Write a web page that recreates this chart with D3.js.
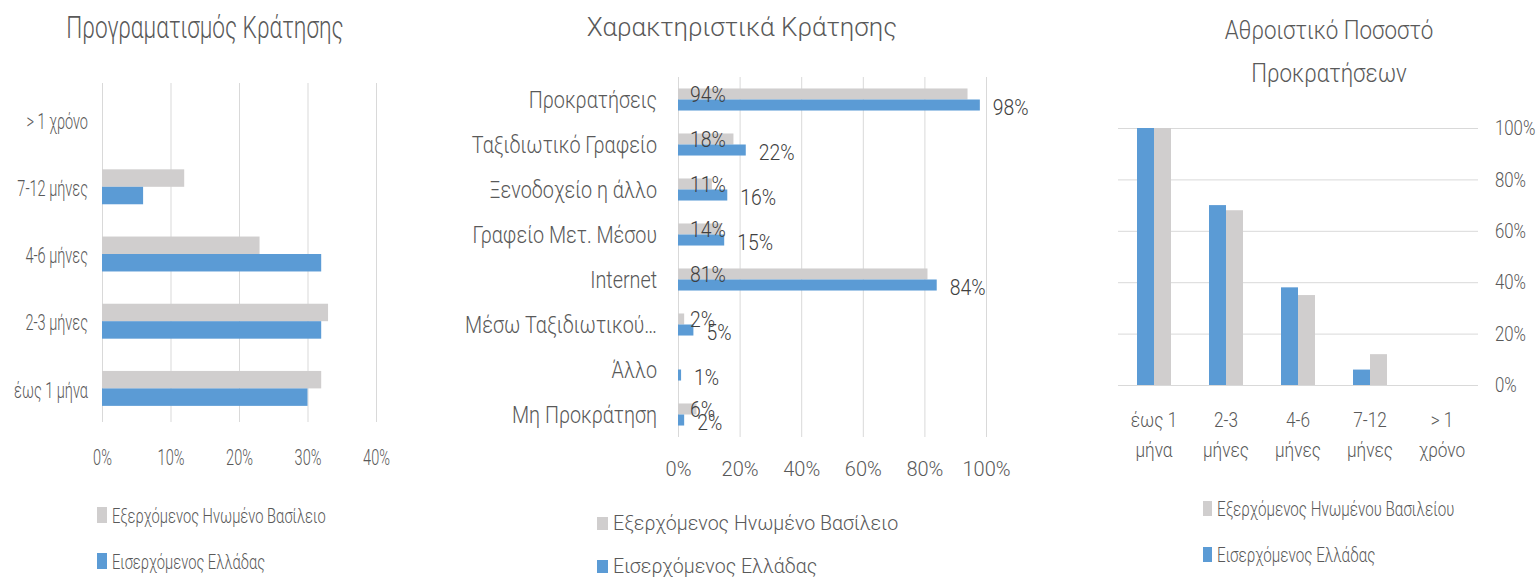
<!DOCTYPE html>
<html lang="el">
<head>
<meta charset="utf-8">
<title>Κράτηση</title>
<script src="https://cdn.jsdelivr.net/npm/d3@7"></script>
<style>
  body { margin: 0; background: #fff; }
  svg text { font-family: Roboto, "DejaVu Sans Condensed", sans-serif; font-weight: 300; }
</style>
</head>
<body>
<svg id="chart" width="1540" height="578"></svg>
<script>
// data
const durations = ["έως 1 μήνα", "2-3 μήνες", "4-6 μήνες", "7-12 μήνες", "> 1 χρόνο"];
const planUK = [32, 33, 23, 12, 0];
const planGR = [30, 32, 32, 6, 0];
const planTicks = [0, 10, 20, 30, 40];

const features = ["Προκρατήσεις", "Ταξιδιωτικό Γραφείο", "Ξενοδοχείο η άλλο", "Γραφείο Μετ. Μέσου",
  "Internet", "Μέσω Ταξιδιωτικού…", "Άλλο", "Μη Προκράτηση"];
const featureUK = [94, 18, 11, 14, 81, 2, 0, 6];
const featureGR = [98, 22, 16, 15, 84, 5, 1, 2];
const featureTicks = [0, 20, 40, 60, 80, 100];

const cumUK = [100, 68, 35, 12, 0];
const cumGR = [100, 70, 38, 6, 0];
const cumTicks = [0, 20, 40, 60, 80, 100];

const legendA = ["Εξερχόμενος Ηνωμένο Βασίλειο", "Εισερχόμενος Ελλάδας"];
const legendB = ["Εξερχόμενος Ηνωμένου Βασιλείου", "Εισερχόμενος Ελλάδας"];

const colors = ["#d0cece", "#5b9bd5"]; // UK, GR
const textColor = "#595959";
const gridColor = "#d9d9d9";

const svg = d3.select("#chart");

// the source pictures were stretched differently, so text is squeezed per panel
function squish(sel, sx) {
  sel.each(function () {
    const t = d3.select(this);
    t.attr("x", (+t.attr("x") || 0) / sx).attr("transform", `scale(${sx},1)`);
  });
}

function title(g, lines, cx, y0, lh, size, sx) {
  lines.forEach((s, i) => {
    g.append("text")
      .attr("x", cx).attr("y", y0 + i * lh)
      .attr("text-anchor", "middle")
      .attr("font-size", size)
      .attr("fill", textColor)
      .text(s)
      .call(squish, sx);
  });
}

function legend(g, names, x, ys, sq, size, sx) {
  names.forEach((n, i) => {
    g.append("rect")
      .attr("x", x).attr("y", ys[i] - sq[1])
      .attr("width", sq[0]).attr("height", sq[1])
      .attr("fill", colors[i]);
    g.append("text")
      .attr("x", x + sq[0] + 5).attr("y", ys[i])
      .attr("font-size", size)
      .attr("fill", textColor)
      .text(n)
      .call(squish, sx);
  });
}

function flat(cats, a, b) {
  return cats.flatMap((c, i) => [{ cat: c, j: 0, v: a[i] }, { cat: c, j: 1, v: b[i] }]);
}

// ---- panel 1: Προγραματισμός Κράτησης
{
  const fit = { title: 0.73, cat: 0.66, tick: 0.66, legend: 0.7 };
  const g = svg.append("g");
  const x = d3.scaleLinear().domain([0, 40]).range([102, 376]);
  const y = d3.scaleBand().domain(durations.slice().reverse()).range([86, 422])
    .paddingInner(0.48).paddingOuter(0.24);
  const s = d3.scaleBand().domain([0, 1]).range([0, y.bandwidth()]);

  g.append("g").attr("transform", "translate(0,422)")
    .call(d3.axisBottom(x).tickValues(planTicks).tickFormat(d => d + "%").tickSize(-339).tickPadding(27))
    .call(a => a.select(".domain").remove())
    .call(a => a.selectAll("line").attr("stroke", gridColor))
    .call(a => a.selectAll("text").attr("font-size", 22).attr("fill", textColor).call(squish, fit.tick));

  g.append("g").attr("transform", "translate(102,0)")
    .call(d3.axisLeft(y).tickSize(0).tickPadding(14))
    .call(a => a.select(".domain").remove())
    .call(a => a.selectAll("text").attr("font-size", 22).attr("fill", textColor)
      .attr("dy", "0.42em").call(squish, fit.cat));

  g.selectAll("rect.bar").data(flat(durations, planUK, planGR)).join("rect")
    .attr("class", "bar")
    .attr("x", x(0))
    .attr("y", d => y(d.cat) + s(d.j))
    .attr("width", d => x(d.v) - x(0))
    .attr("height", s.bandwidth())
    .attr("fill", d => colors[d.j]);

  title(g, ["Προγραματισμός Κράτησης"], 205, 38, 0, 31, fit.title);
  legend(g, legendA, 97, [523, 569], [10, 16], 21, fit.legend);
}

// ---- panel 2: Χαρακτηριστικά Κράτησης
{
  const fit = { title: 1.04, cat: 0.86, tick: 1.0, value: 0.88, legend: 0.98 };
  const g = svg.append("g");
  const x = d3.scaleLinear().domain([0, 100]).range([678, 986]);
  const y = d3.scaleBand().domain(features).range([77, 437])
    .paddingInner(0.51).paddingOuter(0.255);
  const s = d3.scaleBand().domain([0, 1]).range([0, y.bandwidth()]);

  g.append("g").attr("transform", "translate(0,437)")
    .call(d3.axisBottom(x).tickValues(featureTicks).tickFormat(d => d + "%").tickSize(-360).tickPadding(25))
    .call(a => a.select(".domain").remove())
    .call(a => a.selectAll("line").attr("stroke", gridColor))
    .call(a => a.selectAll("text").attr("font-size", 20).attr("fill", textColor).call(squish, fit.tick));

  g.append("g").attr("transform", "translate(678,0)")
    .call(d3.axisLeft(y).tickSize(0).tickPadding(21))
    .call(a => a.select(".domain").remove())
    .call(a => a.selectAll("text").attr("font-size", 23).attr("fill", textColor)
      .attr("dy", "0.35em").call(squish, fit.cat));

  const rows = flat(features, featureUK, featureGR);
  g.selectAll("rect.bar").data(rows).join("rect")
    .attr("class", "bar")
    .attr("x", x(0))
    .attr("y", d => y(d.cat) + s(d.j))
    .attr("width", d => x(d.v) - x(0))
    .attr("height", s.bandwidth())
    .attr("fill", d => colors[d.j]);

  // UK labels sit at the base, GR labels just past the bar end
  g.selectAll("text.val").data(rows.filter(d => d.v > 0)).join("text")
    .attr("class", "val")
    .attr("x", d => d.j === 0 ? x(0) + 12 : x(d.v) + 13)
    .attr("y", d => y(d.cat) + s(d.j) + s.bandwidth() / 2 + (d.j === 0 ? 8 : 10))
    .attr("font-size", 22)
    .attr("fill", "#404040")
    .text(d => d.v + "%")
    .call(squish, fit.value);

  title(g, ["Χαρακτηριστικά Κράτησης"], 742, 36, 0, 25, fit.title);
  legend(g, legendA, 597, [530, 573], [11, 13], 20, fit.legend);
}

// ---- panel 3: Αθροιστικό Ποσοστό Προκρατήσεων
{
  const fit = { title: 0.86, cat: 0.82, tick: 0.8, legend: 0.76 };
  const g = svg.append("g");
  const x = d3.scaleBand().domain(durations).range([1118, 1478])
    .paddingInner(0.528).paddingOuter(0.264);
  const s = d3.scaleBand().domain([1, 0]).range([0, x.bandwidth()]);
  const y = d3.scaleLinear().domain([0, 100]).range([385, 128]);

  g.append("g").attr("transform", "translate(1478,0)")
    .call(d3.axisRight(y).tickValues(cumTicks).tickFormat(d => d + "%").tickSize(-360).tickPadding(17))
    .call(a => a.select(".domain").remove())
    .call(a => a.selectAll("line").attr("stroke", gridColor))
    .call(a => a.selectAll("text").attr("font-size", 21).attr("fill", textColor).call(squish, fit.tick));

  // two-line category labels: first line from the axis, second line added below it
  g.append("g").attr("transform", "translate(0,385)")
    .call(d3.axisBottom(x).tickSize(0).tickPadding(27).tickFormat(d => d.slice(0, d.lastIndexOf(" "))))
    .call(a => a.select(".domain").remove())
    .call(a => a.selectAll(".tick").append("text")
      .attr("y", 72).attr("text-anchor", "middle")
      .text(d => d.slice(d.lastIndexOf(" ") + 1)))
    .call(a => a.selectAll("text").attr("font-size", 21).attr("fill", textColor).call(squish, fit.cat));

  g.selectAll("rect.bar").data(flat(durations, cumUK, cumGR)).join("rect")
    .attr("class", "bar")
    .attr("x", d => x(d.cat) + s(d.j))
    .attr("y", d => y(d.v))
    .attr("width", s.bandwidth())
    .attr("height", d => y(0) - y(d.v))
    .attr("fill", d => colors[d.j]);

  title(g, ["Αθροιστικό Ποσοστό", "Προκρατήσεων"], 1329, 39, 43, 26, fit.title);
  legend(g, legendB, 1203, [516, 562], [9, 15], 20, fit.legend);
}
</script>
</body>
</html>
